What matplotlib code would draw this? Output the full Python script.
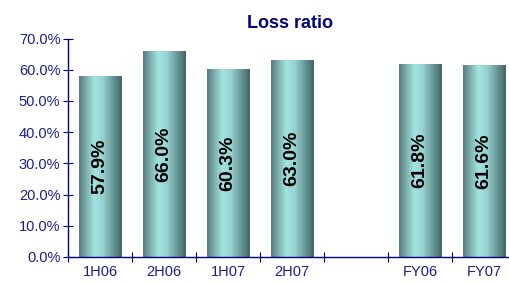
import numpy as np
import matplotlib
matplotlib.use("Agg")
import matplotlib.pyplot as plt
from matplotlib.colors import LinearSegmentedColormap
from matplotlib.ticker import FuncFormatter

plt.rcParams['font.family'] = ['Liberation Sans', 'DejaVu Sans']

categories = ['1H06', '2H06', '1H07', '2H07', '', 'FY06', 'FY07']
values = [57.9, 66.0, 60.3, 63.0, np.nan, 61.8, 61.6]

navy = '#000080'
tick_col = '#1e1e88'

fig = plt.figure(figsize=(5.1, 2.84), dpi=100)
ax = fig.add_axes([0.1333, 0.0951, 0.8785, 0.7693])

x = np.arange(len(categories))
bars = ax.bar(x, np.nan_to_num(values), width=0.67, color='none', edgecolor='none')

# cylinder-like shading across each bar
cmap = LinearSegmentedColormap.from_list('cyl', [
    (0.0, '#567c7c'), (0.35, '#a3e3e1'), (0.55, '#95d4d2'), (1.0, '#446464')])
grad = np.linspace(0, 1, 256).reshape(1, -1)
for b, v in zip(bars, values):
    if np.isnan(v):
        continue
    x0, w, h = b.get_x(), b.get_width(), b.get_height()
    im = ax.imshow(grad, cmap=cmap, aspect='auto', extent=[x0, x0 + w, 0, h],
                   interpolation='bicubic', zorder=2)
    im.set_clip_path(b)
    ax.text(b.get_x() + w / 2, h / 2, f'{v:.1f}%', rotation=90, ha='center',
            va='center', fontsize=14, fontweight='bold', color='black', zorder=3)

ax.set_xlim(-0.5, len(categories) - 0.5)
ax.set_ylim(0, 70)
ax.set_yticks(np.arange(0, 71, 10))
ax.yaxis.set_major_formatter(FuncFormatter(lambda v, p: f'{v:.1f}%'))

ax.set_xticks(np.arange(-0.5, len(categories), 1.0))
ax.set_xticklabels([])
ax.set_xticks(x, minor=True)
ax.set_xticklabels(categories, minor=True)
ax.tick_params(axis='x', which='minor', length=0, pad=6, labelsize=10.5, labelcolor=tick_col)
ax.tick_params(axis='x', which='major', direction='inout', length=7, color=navy)
ax.tick_params(axis='y', direction='inout', length=7, color=navy, labelsize=10.5,
               labelcolor=tick_col, pad=2)

for s in ['top', 'right']:
    ax.spines[s].set_visible(False)
for s in ['left', 'bottom']:
    ax.spines[s].set_color(navy)
    ax.spines[s].set_linewidth(1)

fig.text(0.569, 0.919, 'Loss ratio', ha='center', va='center', fontsize=13,
         fontweight='bold', color=navy)

fig.savefig('out.png', dpi=100)
